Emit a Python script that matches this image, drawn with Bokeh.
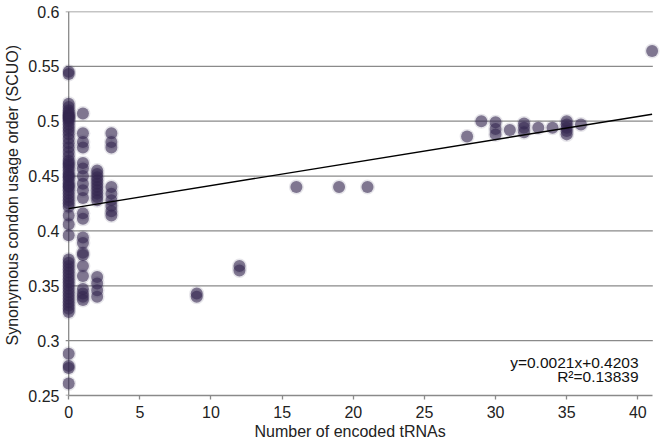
from bokeh.plotting import figure
from bokeh.models import Range1d, Label, FixedTicker, ColumnDataSource, Title
from bokeh.embed import file_html
from bokeh.resources import INLINE

# ---- data ----
scuo_x0 = [0.545, 0.543, 0.516, 0.513, 0.510, 0.508, 0.506, 0.505, 0.504, 0.503, 0.502,
           0.500, 0.497, 0.494, 0.491, 0.488, 0.484, 0.480, 0.476, 0.472, 0.468, 0.464,
           0.462, 0.460, 0.458, 0.455, 0.452, 0.450, 0.449, 0.446, 0.443, 0.441, 0.440,
           0.437, 0.434, 0.431, 0.428, 0.425, 0.422, 0.414, 0.406, 0.396,
           0.374, 0.371, 0.368, 0.365, 0.362, 0.359, 0.356, 0.353, 0.350, 0.347, 0.344,
           0.341, 0.338, 0.335, 0.332, 0.329, 0.326, 0.288, 0.277, 0.275, 0.261]
scuo_x1 = [0.507, 0.489, 0.481, 0.476, 0.462, 0.457, 0.450, 0.443, 0.437, 0.430, 0.416,
           0.411, 0.394, 0.389, 0.380, 0.378, 0.368, 0.359, 0.347, 0.343, 0.340, 0.337]
scuo_x2 = [0.455, 0.452, 0.449, 0.446, 0.443, 0.440, 0.437, 0.434, 0.431, 0.428,
           0.358, 0.352, 0.346, 0.340]
scuo_x3 = [0.489, 0.481, 0.476, 0.440, 0.434, 0.428, 0.423, 0.418, 0.414]
other_trnas = [9, 9, 12, 12, 16, 19, 21, 28, 29, 30, 30, 30, 31, 32, 32, 32, 33, 34,
               35, 35, 35, 35, 35, 36, 41]
other_scuo = [0.343, 0.340, 0.368, 0.364, 0.440, 0.440, 0.440, 0.486, 0.500, 0.499,
              0.493, 0.488, 0.492, 0.498, 0.494, 0.490, 0.494, 0.494, 0.500, 0.497,
              0.494, 0.491, 0.488, 0.497, 0.564]

fit_slope = 0.0021
fit_intercept = 0.4203
fit_r2 = "0.13839"

x_ticks = [0, 5, 10, 15, 20, 25, 30, 35, 40]
y_ticks = [0.25, 0.3, 0.35, 0.4, 0.45, 0.5, 0.55, 0.6]
y_tick_labels = ["0.25", "0.3", "0.35", "0.4", "0.45", "0.5", "0.55", "0.6"]

x_title = "Number of encoded tRNAs"
y_title = "Synonymous condon usage order (SCUO)"

# ---- assemble ----
xs = ([0] * len(scuo_x0) + [1] * len(scuo_x1) + [2] * len(scuo_x2) +
      [3] * len(scuo_x3) + other_trnas)
ys = scuo_x0 + scuo_x1 + scuo_x2 + scuo_x3 + other_scuo
src = ColumnDataSource(dict(x=xs, y=ys))

X_AXIS_END = 41.05
TICK_LEN = 0.21
FONT = "Liberation Sans"
GRID = "#8a8a8a"
TXT = "#222222"

p = figure(width=664, height=445, output_backend="svg", toolbar_location=None,
           x_range=Range1d(-0.435, 41.59), y_range=Range1d(0.25, 0.6),
           min_border_left=61, min_border_right=4, min_border_top=11,
           min_border_bottom=50)
p.outline_line_color = None
p.xgrid.visible = False
p.ygrid.visible = False

# horizontal gridlines, from the y axis to the end of the x axis
n = len(y_ticks) - 1
p.segment(x0=[0] * n, y0=y_ticks[1:], x1=[X_AXIS_END] * n, y1=y_ticks[1:],
          line_color=GRID, line_width=1.3)
# y axis line at x = 0 and its tick marks
p.segment(x0=[0], y0=[y_ticks[0]], x1=[0], y1=[y_ticks[-1]],
          line_color=GRID, line_width=1.3)
p.segment(x0=[-TICK_LEN] * len(y_ticks), y0=y_ticks, x1=[0] * len(y_ticks),
          y1=y_ticks, line_color=GRID, line_width=1.3)

# points (soft halo + core)
p.scatter("x", "y", source=src, size=15, fill_color="#33264f", fill_alpha=0.12,
          line_color=None)
p.scatter("x", "y", source=src, size=12, fill_color="#33264f", fill_alpha=0.58,
          line_color=None)

# regression line
fx = [min(xs), max(xs)]
fy = [fit_slope * v + fit_intercept for v in fx]
p.line(fx, fy, line_color="black", line_width=1.4)

for ax in (p.xaxis[0], p.yaxis[0]):
    ax.axis_line_color = GRID
    ax.axis_line_width = 1.3
    ax.major_tick_line_color = GRID
    ax.major_tick_line_width = 1.3
    ax.major_tick_in = 0
    ax.minor_tick_line_color = None
    ax.major_label_text_font = FONT
    ax.major_label_text_font_size = "16px"
    ax.major_label_text_color = TXT

p.xaxis.ticker = FixedTicker(ticks=x_ticks)
p.xaxis.bounds = (0, X_AXIS_END)
p.xaxis.major_tick_out = 4
p.xaxis.major_label_standoff = 6

p.yaxis.ticker = FixedTicker(ticks=y_ticks)
p.yaxis.major_label_overrides = {t: l for t, l in zip(y_ticks, y_tick_labels)}
p.yaxis.axis_line_color = None
p.yaxis.major_tick_line_color = None
p.yaxis.major_tick_out = 0
p.yaxis.major_label_standoff = 3

p.add_layout(Title(text=x_title, align="left", offset=192, standoff=0,
                   text_font=FONT, text_font_size="16px", text_font_style="normal",
                   text_color=TXT), "below")
p.add_layout(Title(text=y_title, align="left", offset=50, standoff=6,
                   vertical_align="top",
                   text_font=FONT, text_font_size="16px", text_font_style="normal",
                   text_color=TXT), "left")

p.add_layout(Label(x=40.05, y=0.2801, text=f"y={fit_slope}x+{fit_intercept}",
                   text_align="right", text_baseline="middle", text_font=FONT,
                   text_font_size="15.5px", text_color="#111111"))
p.add_layout(Label(x=40.05, y=0.2675, text=f"R\u00b2={fit_r2}",
                   text_align="right", text_baseline="middle", text_font=FONT,
                   text_font_size="15.5px", text_color="#111111"))

open("out.html", "w").write(file_html(p, INLINE))
